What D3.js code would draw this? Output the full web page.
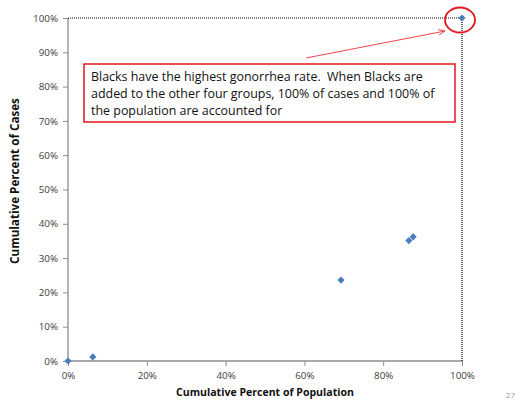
<!DOCTYPE html>
<html>
<head>
<meta charset="utf-8">
<script src="https://cdn.jsdelivr.net/npm/d3@7"></script>
<style>
  html, body { margin: 0; padding: 0; background: #fff; }
  svg { display: block; }
</style>
</head>
<body>
<svg id="chart" width="519" height="405"></svg>
<script>
// Cumulative share of population (x) vs cumulative share of cases (y), fractions
const popCumulative = [0, 0.063, 0.693, 0.865, 0.876, 1.0];
const caseCumulative = [0, 0.012, 0.236, 0.351, 0.362, 1.0];
const xTicks = [0, 0.2, 0.4, 0.6, 0.8, 1.0];
const yTicks = [0, 0.1, 0.2, 0.3, 0.4, 0.5, 0.6, 0.7, 0.8, 0.9, 1.0];
const noteLines = [
  "Blacks have the highest gonorrhea rate.  When Blacks are",
  "added to the other four groups, 100% of cases and 100% of",
  "the population are accounted for"
];

const svg = d3.select("#chart");
const font = "'Open Sans', 'Liberation Sans', sans-serif";
const m = { left: 68, right: 462, top: 18, bottom: 361 };

// Scale a text element's font size so it spans the given width
function fitWidth(sel, width) {
  const node = sel.node();
  const base = parseFloat(sel.style("font-size"));
  const len = node.getComputedTextLength();
  sel.style("font-size", (base * width / len).toFixed(2) + "px");
  return sel;
}

const x = d3.scaleLinear().domain([0, 1]).range([m.left, m.right]);
const y = d3.scaleLinear().domain([0, 1]).range([m.bottom, m.top]);
const pct = d3.format(".0%");

// y axis
const yAxis = svg.append("g")
  .attr("transform", `translate(${m.left},0)`)
  .call(d3.axisLeft(y).tickValues(yTicks).tickFormat(pct).tickSize(5).tickPadding(5));
// x axis
const xAxis = svg.append("g")
  .attr("transform", `translate(0,${m.bottom})`)
  .call(d3.axisBottom(x).tickValues(xTicks).tickFormat(pct).tickSize(5).tickPadding(6));

[yAxis, xAxis].forEach(g => {
  g.select(".domain").attr("stroke", "#8c8c8c").attr("stroke-width", 1.3);
  g.selectAll(".tick line").attr("stroke", "#8c8c8c");
  g.selectAll(".tick text").attr("fill", "#404040").style("font-family", font).style("font-size", "9.8px");
});
yAxis.select(".domain").attr("d", `M-0,${m.bottom}V${m.top}`);
xAxis.select(".domain").attr("d", `M${m.left},0H${m.right}`);

// Dotted guides to the 100%/100% corner
const last = popCumulative.length - 1;
svg.append("line")
  .attr("x1", m.left).attr("x2", x(popCumulative[last]))
  .attr("y1", y(caseCumulative[last])).attr("y2", y(caseCumulative[last]))
  .attr("stroke", "#000").attr("stroke-width", 1.2).attr("stroke-dasharray", "1,1");
svg.append("line")
  .attr("x1", x(popCumulative[last])).attr("x2", x(popCumulative[last]))
  .attr("y1", y(caseCumulative[last])).attr("y2", m.bottom)
  .attr("stroke", "#000").attr("stroke-width", 1.2).attr("stroke-dasharray", "1,1");

// Diamond markers (squares turned 45°)
const diamond = d3.symbol().type(d3.symbolSquare).size(26);
svg.append("g").selectAll("path")
  .data(popCumulative.map((p, i) => [p, caseCumulative[i]]))
  .join("path")
  .attr("d", diamond)
  .attr("transform", d => `translate(${x(d[0])},${y(d[1])}) rotate(45)`)
  .attr("fill", "#4a7ebb");

// Highlight ring around the final point
svg.append("ellipse")
  .attr("cx", x(popCumulative[last]) - 2).attr("cy", y(caseCumulative[last]) + 2)
  .attr("rx", 15).attr("ry", 12.5)
  .attr("fill", "none").attr("stroke", "#e8141c").attr("stroke-width", 1.8);

// Arrow from the note toward the ring
const ax1 = 306, ay1 = 58, ax2 = 445, ay2 = 31;
svg.append("line")
  .attr("x1", ax1).attr("y1", ay1).attr("x2", ax2).attr("y2", ay2)
  .attr("stroke", "#f0474c").attr("stroke-width", 1);
const ang = Math.atan2(ay2 - ay1, ax2 - ax1);
const hl = 7, ha = 0.4;
svg.append("path")
  .attr("d", `M${ax2 - hl * Math.cos(ang - ha)},${ay2 - hl * Math.sin(ang - ha)}L${ax2},${ay2}L${ax2 - hl * Math.cos(ang + ha)},${ay2 - hl * Math.sin(ang + ha)}`)
  .attr("fill", "none").attr("stroke", "#f0474c").attr("stroke-width", 1);

// Note box
svg.append("rect")
  .attr("x", 84).attr("y", 64).attr("width", 371).attr("height", 58)
  .attr("fill", "#fff").attr("stroke", "#e8141c").attr("stroke-width", 1.5);
const noteText = svg.append("g").selectAll("text")
  .data(noteLines).join("text")
  .attr("x", 91).attr("y", (d, i) => 81 + i * 17)
  .attr("fill", "#111")
  .style("font-family", font).style("font-size", "12px")
  .style("white-space", "pre")
  .text(d => d);
{
  // one shared size so all three lines keep the same type
  const first = noteText.filter((d, i) => i === 0);
  fitWidth(first, 332);
  noteText.style("font-size", first.style("font-size"));
}

// Axis titles
const yTitle = svg.append("text")
  .attr("transform", `translate(19,181) rotate(-90)`)
  .attr("text-anchor", "middle")
  .style("font-family", font).style("font-size", "11px").style("font-weight", "bold")
  .attr("fill", "#111")
  .text("Cumulative Percent of Cases");
fitWidth(yTitle, 166);
const xTitle = svg.append("text")
  .attr("x", (m.left + m.right) / 2).attr("y", 396)
  .attr("text-anchor", "middle")
  .style("font-family", font).style("font-size", "11px").style("font-weight", "bold")
  .attr("fill", "#111")
  .text("Cumulative Percent of Population");
fitWidth(xTitle, 178);

// Slide number
svg.append("text")
  .attr("x", 515).attr("y", 398).attr("text-anchor", "end")
  .style("font-family", font).style("font-size", "8px")
  .attr("fill", "#999")
  .text("27");
</script>
</body>
</html>
